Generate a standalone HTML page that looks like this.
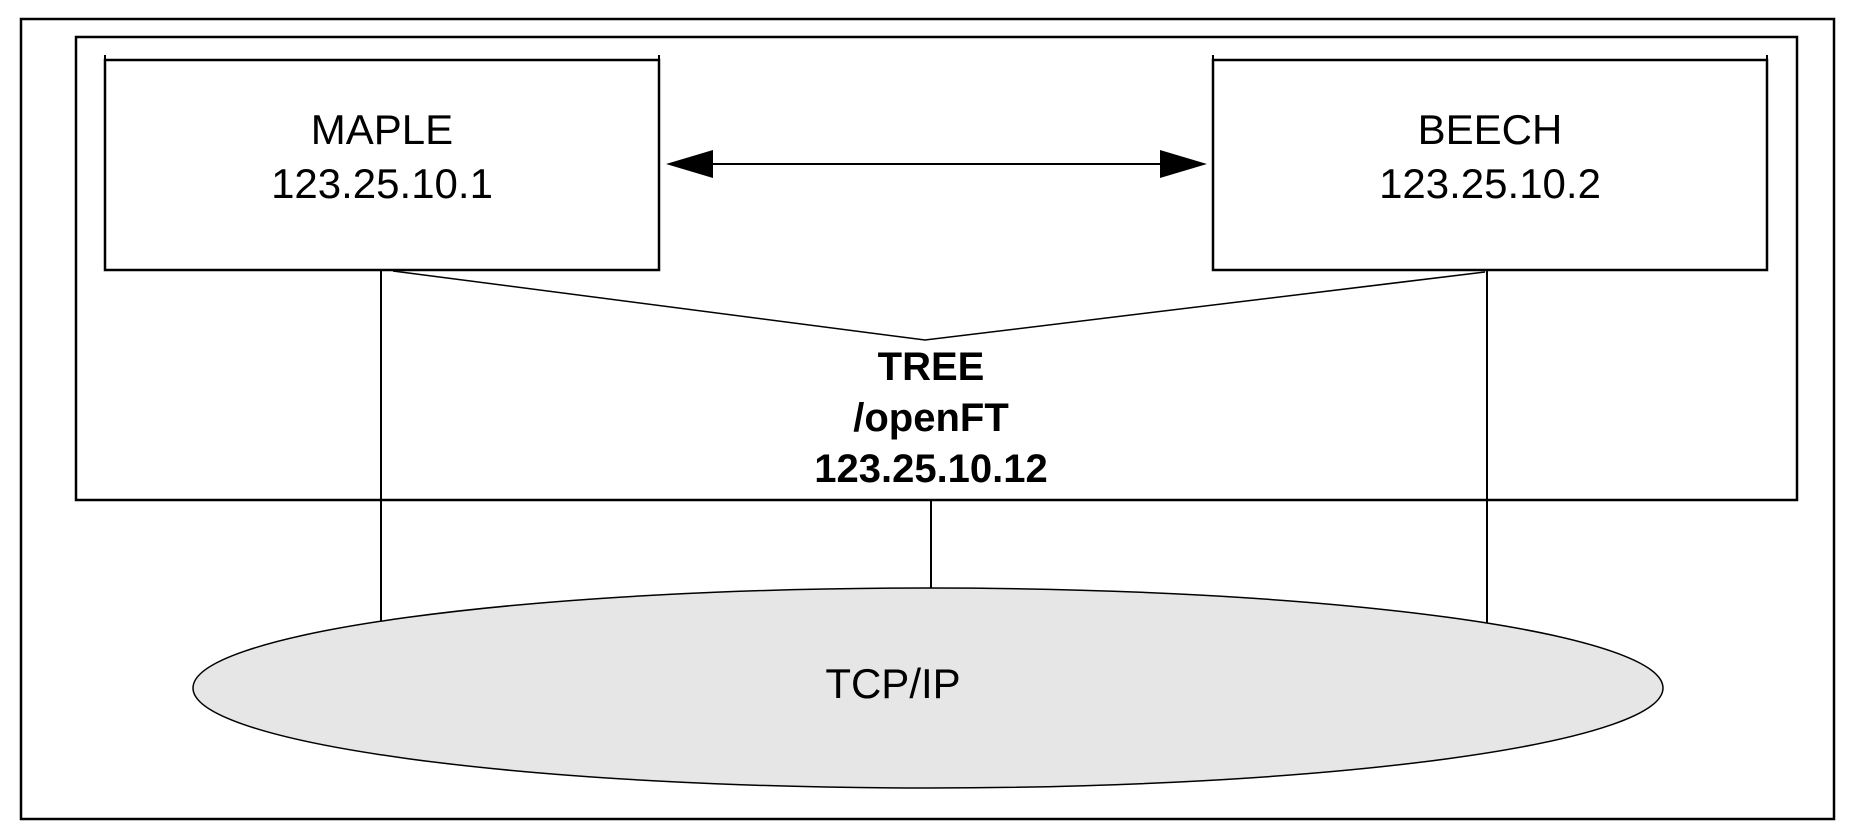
<!DOCTYPE html>
<html><head><meta charset="utf-8"><style>
html,body{margin:0;padding:0;background:#fff;}
svg{display:block;}
text{font-family:"Liberation Sans",Arial,sans-serif;fill:#000;}
</style></head><body>
<svg width="1855" height="838" viewBox="0 0 1855 838" xmlns="http://www.w3.org/2000/svg">
<rect x="21" y="19" width="1813" height="800" fill="none" stroke="#000" stroke-width="2.5"/>
<rect x="76" y="37" width="1721" height="463" fill="none" stroke="#000" stroke-width="2.5"/>
<rect x="105" y="60" width="554" height="210" fill="none" stroke="#000" stroke-width="2.5"/>
<line x1="105" y1="55" x2="105" y2="60" stroke="#000" stroke-width="2"/>
<line x1="659" y1="55" x2="659" y2="60" stroke="#000" stroke-width="2"/>
<rect x="1213" y="60" width="554" height="210" fill="none" stroke="#000" stroke-width="2.5"/>
<line x1="1213" y1="55" x2="1213" y2="60" stroke="#000" stroke-width="2"/>
<line x1="1767" y1="55" x2="1767" y2="60" stroke="#000" stroke-width="2"/>
<text x="382" y="144" font-size="42" text-anchor="middle">MAPLE</text>
<text x="382" y="198" font-size="42" text-anchor="middle">123.25.10.1</text>
<text x="1490" y="144" font-size="42" text-anchor="middle">BEECH</text>
<text x="1490" y="198" font-size="42" text-anchor="middle">123.25.10.2</text>
<line x1="700" y1="164" x2="1175" y2="164" stroke="#000" stroke-width="2"/>
<polygon points="666,164 713,150 713,178" fill="#000"/>
<polygon points="1207,164 1160,150 1160,178" fill="#000"/>
<polyline points="393,271 925,340 1485,272" fill="none" stroke="#000" stroke-width="1.5"/>
<line x1="381" y1="270" x2="381" y2="625" stroke="#000" stroke-width="2"/>
<line x1="1487" y1="270" x2="1487" y2="625" stroke="#000" stroke-width="2"/>
<line x1="931" y1="500" x2="931" y2="590" stroke="#000" stroke-width="2"/>
<text x="931" y="380" font-size="40" font-weight="bold" text-anchor="middle">TREE</text>
<text x="931" y="431" font-size="40" font-weight="bold" text-anchor="middle">/openFT</text>
<text x="931" y="482" font-size="40" font-weight="bold" text-anchor="middle">123.25.10.12</text>
<ellipse cx="928" cy="688" rx="735" ry="100" fill="#e6e6e6" stroke="#000" stroke-width="1.5"/>
<text x="893" y="698" font-size="42" text-anchor="middle">TCP/IP</text>
</svg>
</body></html>
